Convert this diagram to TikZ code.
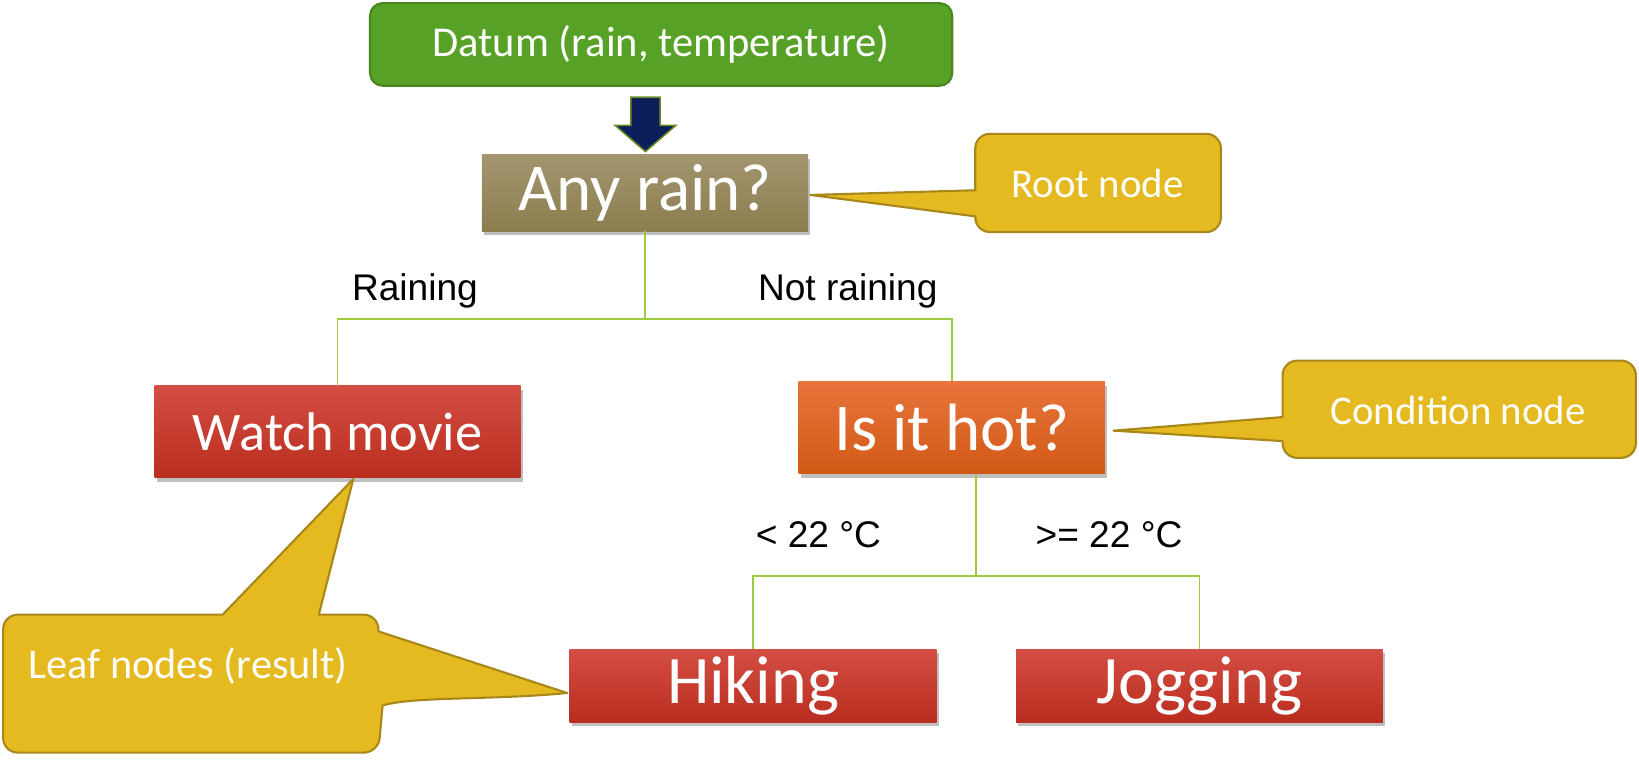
\documentclass[tikz,border=0pt]{standalone}
\usepackage{fontspec}
\setmainfont{Carlito}
\newfontfamily\arialfont{Liberation Sans}
\usetikzlibrary{calc,shadows}
\definecolor{datumgreen}{HTML}{57A127}
\definecolor{datumborder}{HTML}{4A861E}
\definecolor{arrownavy}{HTML}{0D1F5A}
\definecolor{arrowborder}{HTML}{6B8A23}
\definecolor{khakitop}{HTML}{A39670}
\definecolor{khakibot}{HTML}{8A7D4E}
\definecolor{redtop}{HTML}{D44E43}
\definecolor{redbot}{HTML}{B92D1F}
\definecolor{orangetop}{HTML}{E8743C}
\definecolor{orangebot}{HTML}{D25A16}
\definecolor{calloutfill}{HTML}{E5B920}
\definecolor{calloutborder}{HTML}{A8871A}
\definecolor{branchgreen}{HTML}{9CCB3E}
\tikzset{
  treebox/.style={rectangle, inner sep=0pt, text=white,
    drop shadow={shadow xshift=2pt, shadow yshift=-4pt, opacity=0.25, fill=black}},
  khakibox/.style={treebox, top color=khakitop, bottom color=khakibot},
  redbox/.style={treebox, top color=redtop, bottom color=redbot},
  orangebox/.style={treebox, top color=orangetop, bottom color=orangebot},
  branch/.style={draw=branchgreen, line width=1.5pt},
  edgelabel/.style={font=\arialfont\fontsize{35.5}{42}\selectfont, text=black, inner sep=0pt},
  callout/.style={fill=calloutfill, draw=calloutborder, line width=2pt, line join=round},
  callouttext/.style={text=white, inner sep=0pt, font=\fontsize{39}{45}\selectfont},
}
\begin{document}
\begin{tikzpicture}[x=1pt,y=-1pt]
\useasboundingbox (0,0) rectangle (1568,745.2);

% input datum
\node[rectangle, rounded corners=12pt, fill=datumgreen, draw=datumborder, line width=2pt,
      minimum width=557pt, minimum height=79pt, text=white, inner sep=0pt,
      font=\fontsize{40.7}{46}\selectfont] (datum) at (632.5,42.5) {Datum (rain, temperature)};

% tree nodes
\node[khakibox, minimum width=312pt, minimum height=73pt, font=\fontsize{64}{72}\selectfont] (root) at (617,184.5) {Any rain?};
\node[redbox, minimum width=350pt, minimum height=88pt, font=\fontsize{52}{60}\selectfont] (watch) at (323,413) {Watch movie};
\node[orangebox, minimum width=293pt, minimum height=88pt, font=\fontsize{64}{72}\selectfont] (hot) at (910.5,409) {Is it hot?};
\node[redbox, minimum width=351pt, minimum height=70pt, font=\fontsize{65}{72}\selectfont] (hiking) at (720.5,656) {Hiking};
\node[redbox, minimum width=351pt, minimum height=70pt, font=\fontsize{65}{72}\selectfont] (jogging) at (1147.5,656) {Jogging};

% block arrow from datum to root
\coordinate (arrtop) at ($(datum.south)+(-15,10)$);
\draw[fill=arrownavy, draw=arrowborder, line width=1.5pt, line join=miter]
  ($(arrtop)+(-14,0)$) -- ($(arrtop)+(14,0)$) -- ($(arrtop)+(14,27)$) -- ($(arrtop)+(29,27)$)
  -- ($(arrtop)+(0,52)$) -- ($(arrtop)+(-29,27)$) -- ($(arrtop)+(-14,27)$) -- cycle;

% branches
\coordinate (j1) at ($(root.south)+(0,84)$);
\draw[branch] (root.south) -- (j1);
\draw[branch] (watch.north) |- (j1) -| (hot.north);
\coordinate (hs) at ($(hot.south)+(23,0)$);
\coordinate (j2) at ($(hs)+(0,98)$);
\draw[branch] (hs) -- (j2);
\draw[branch] (hiking.north) |- (j2) -| (jogging.north);

% edge labels
\node[edgelabel] (lrain) at (397,278) {Raining};
\node[edgelabel] (lnorain) at (811,278) {Not raining};
\node[edgelabel] (lcold) at (783,512) {< 22 °C};
\node[edgelabel] (lwarm) at (1061,512) {>= 22 °C};

% callout: root node
\coordinate (roottip) at ($(root.east)+(2,2)$);
\draw[callout] (1050,128) [rounded corners=14pt] -- (1168,128) -- (1168,222) -- (933,222)
  [sharp corners] -- (933,207) -- (roottip) -- (933,182) [rounded corners=14pt] -- (933,128) -- cycle;
\node[callouttext] (rootlbl) at (1050,176) {Root node};

% callout: condition node
\coordinate (hottip) at ($(hot.east)+(8,3)$);
\draw[callout] (1396,345) [rounded corners=14pt] -- (1565,345) -- (1565,438) -- (1227,438)
  [sharp corners] -- (1227,422) -- (hottip) -- (1227,399) [rounded corners=14pt] -- (1227,345) -- cycle;
\node[callouttext] (condlbl) at (1395,393) {Condition node};

% callout: leaf nodes
\coordinate (leaftip1) at ($(watch.south)+(15,1)$);
\coordinate (leaftip2) at ($(hiking.west)+(-2,7)$);
\draw[callout] (100,588) -- (213,588) -- (leaftip1) -- (305,588)
  [rounded corners=14pt] -- (362,588) [sharp corners] -- (362,604) -- (leaftip2)
  .. controls (470,670) and (395,666) .. (366,675) [rounded corners=14pt] -- (362,720) -- (3,720) -- (3,588) -- cycle;
\node[callouttext, font=\fontsize{40.5}{46}\selectfont] (leaflbl) at (180,637) {Leaf nodes (result)};
\end{tikzpicture}
\end{document}
